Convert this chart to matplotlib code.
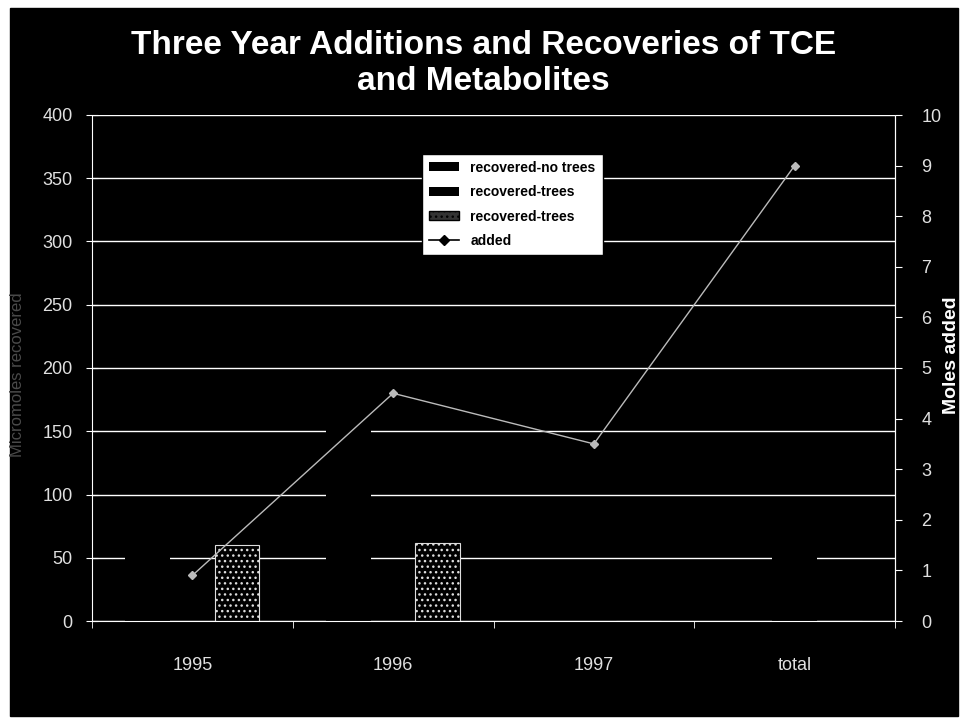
import numpy as np
import matplotlib as mpl
import matplotlib.pyplot as plt
from matplotlib.patches import Rectangle, Patch
from matplotlib.lines import Line2D
mpl.rcParams['font.family'] = 'Liberation Sans'
mpl.rcParams['hatch.linewidth'] = 1.0

# chart data
years = ['1995', '1996', '1997', 'total']
rec_no_trees = [55, 165, 0, 0]      # black bars, only visible where they hide gridlines
rec_trees = [0, 0, 0, 70]
rec_trees_2 = [60, 62, 0, 0]        # dotted bars
added = [0.9, 4.5, 3.5, 9.0]        # moles added, right axis

fig = plt.figure(figsize=(9.67, 7.25), dpi=100)
fig.patch.set_facecolor('white')
# black scanned page area
fig.add_artist(Rectangle((10/967, 1 - 716/725), 948/967, 708/725,
                         transform=fig.transFigure, color='black', zorder=0))

ax = fig.add_axes([92/967, 1 - 621/725, 803/967, 506/725])
ax.set_facecolor('black')
ax.set_axisbelow(True)

x = np.arange(len(years))
w = 1 / 4.5
ax.bar(x - w, rec_no_trees, w, color='black', label='recovered-no trees', zorder=2)
ax.bar(x, rec_trees, w, color='black', label='recovered-trees', zorder=2)
ax.bar(x + w, rec_trees_2, w, facecolor='black', edgecolor='#dddddd', hatch='...',
       lw=0.8, label='recovered-trees', zorder=2)

ax.set_xlim(-0.5, 3.5)
ax.set_ylim(0, 400)
ax.set_yticks(np.arange(0, 401, 50))
ax.set_xticks(x)
ax.set_xticklabels(years)
ax.set_xticks(np.arange(-0.5, 3.6, 1), minor=True)
ax.yaxis.grid(True, color='white', lw=1)
ax.tick_params(axis='y', colors='white', labelcolor='#e0e0e0', labelsize=13,
               direction='inout', length=8, pad=10)
ax.tick_params(axis='x', which='major', colors='white', labelcolor='#e0e0e0',
               labelsize=13, length=0, pad=26)
ax.tick_params(axis='x', which='minor', colors='white', length=5, direction='out')
for s in ['left', 'bottom', 'right']:
    ax.spines[s].set_color('white')
    ax.spines[s].set_linestyle((0, (2, 1)))
ax.spines['bottom'].set_linestyle('-')
ax.spines['top'].set_visible(False)

ax2 = ax.twinx()
ax2.plot(x, added, color='#bbbbbb', lw=1, marker='D', ms=4, label='added', zorder=3)
ax2.set_ylim(0, 10)
ax2.set_yticks(np.arange(0, 11, 1))
ax2.tick_params(axis='y', colors='white', labelcolor='#e0e0e0', labelsize=13,
                direction='out', length=5, pad=14)
ax2.spines['top'].set_visible(False)
ax2.spines['right'].set_color('white')
ax2.spines['right'].set_linestyle((0, (2, 1)))
ax2.spines['left'].set_visible(False)
ax2.spines['bottom'].set_visible(False)

# axis titles placed by hand so they stay inside the scanned page
fig.text(18/967, 1 - 375/725, 'Micromoles recovered', rotation=90, ha='center', va='center',
         color='#4a4a4a', fontsize=12)
fig.text(952/967, 1 - 355/725, 'Moles added', rotation=90, ha='center', va='center',
         color='white', fontsize=14, fontweight='bold')

handles = [Patch(facecolor='black', label='recovered-no trees'),
           Patch(facecolor='black', label='recovered-trees'),
           Patch(facecolor='#333333', edgecolor='black', hatch='...', label='recovered-trees'),
           Line2D([], [], color='black', marker='D', ms=5, lw=1.2, label='added')]
leg = ax2.legend(handles=handles, loc='upper left', bbox_to_anchor=(0.402, 0.937),
                 frameon=True, fancybox=False, edgecolor='black', facecolor='white',
                 framealpha=1, prop={'weight': 'bold', 'size': 10}, labelspacing=0.75,
                 handlelength=2.2, handleheight=0.6, borderpad=0.5)

fig.text(0.5, 1 - 46/725, 'Three Year Additions and Recoveries of TCE',
         ha='center', va='center', color='white', fontsize=24, fontweight='bold')
fig.text(0.5, 1 - 81/725, 'and Metabolites',
         ha='center', va='center', color='white', fontsize=24, fontweight='bold')

plt.savefig('out.png', dpi=100, facecolor=fig.get_facecolor())
